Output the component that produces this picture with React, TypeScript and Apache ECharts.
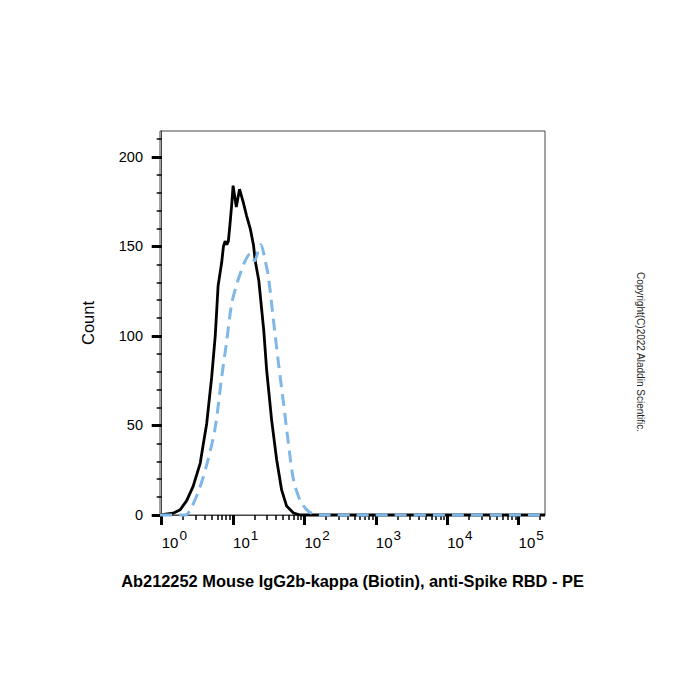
import React, { useEffect, useRef } from "react";
import * as echarts from "echarts";

// x values are log10(PE intensity); y values are event counts
const xMin = -0.024;
const xMax = 5.37;
const yMax = 214.5;

const decades = [0, 1, 2, 3, 4, 5];
const minorMultipliers = [2, 3, 4, 5, 6, 7, 8, 9];
const yMajorTicks = [0, 50, 100, 150, 200];
const yMinorTicks = [10, 20, 30, 40, 60, 70, 80, 90, 110, 120, 130, 140, 160, 170, 180, 190, 210];

const blackLogX = [-0.024, 0.16, 0.26, 0.35, 0.44, 0.54, 0.58, 0.63, 0.70, 0.75, 0.79, 0.84, 0.865, 0.888, 0.912, 0.934, 0.958, 0.982, 1.0, 1.045, 1.09, 1.14, 1.19, 1.24, 1.285, 1.31, 1.36, 1.43, 1.47, 1.54, 1.61, 1.68, 1.75, 1.85, 1.94, 5.37];
const blackCount = [0, 1, 3, 8, 16, 29, 39, 51, 77, 100, 128, 141, 150, 153, 151, 153, 163, 174, 184, 172, 182, 175, 167, 160, 151, 142, 131, 103, 81, 53, 31, 14, 5, 1, 0, 0];

const blueLogX = [-0.024, 0.33, 0.42, 0.54, 0.65, 0.75, 0.84, 0.91, 0.98, 1.06, 1.12, 1.17, 1.24, 1.30, 1.355, 1.39, 1.45, 1.495, 1.565, 1.635, 1.705, 1.775, 1.845, 1.94, 2.03, 2.10, 2.22, 5.37];
const blueCount = [0, 0, 4.5, 16, 31, 49, 77, 97, 118, 130, 137, 142, 146, 142, 148, 151, 142, 133, 109, 85, 63, 40, 20, 8, 3, 1, 0, 0];

const xTitle = "Ab212252 Mouse IgG2b-kappa (Biotin), anti-Spike RBD - PE";
const yTitle = "Count";
const copyright = "Copyright(C)2022 Aladdin Scientific.";

const FONT = "'Liberation Sans', Arial, Helvetica, sans-serif";

export default function App() {
  const ref = useRef<HTMLDivElement>(null);

  useEffect(() => {
    if (!ref.current) return;
    const chart = echarts.init(ref.current, null, { renderer: "svg" });

    const minorX: number[] = [];
    decades.forEach((d) => {
      minorMultipliers.forEach((m) => {
        const v = d + Math.log10(m);
        if (v <= xMax) minorX.push(v);
      });
    });

    const blackData = blackLogX.map((x, i) => [x, blackCount[i]]);
    const blueData = blueLogX.map((x, i) => [x, blueCount[i]]);

    chart.setOption({
      animation: false,
      backgroundColor: "#ffffff",
      textStyle: { fontFamily: FONT },
      grid: {
        left: 160,
        top: 131,
        width: 385,
        height: 384,
        show: true,
        borderColor: "#444",
        borderWidth: 1,
        backgroundColor: "transparent",
      },
      xAxis: [
        {
          type: "value",
          min: xMin,
          max: xMax,
          position: "bottom",
          splitLine: { show: false },
          axisLine: { show: true, lineStyle: { color: "#444", width: 1 } },
          axisTick: {
            show: true,
            customValues: decades,
            length: 10,
            lineStyle: { color: "#000", width: 3 },
          },
          axisLabel: {
            customValues: decades,
            align: "left",
            margin: 13,
            formatter: (v: number) => `{b|10}{s|${Math.round(v)}}`,
            rich: {
              b: { fontSize: 15, color: "#000", fontFamily: FONT },
              s: { fontSize: 13.5, color: "#000", fontFamily: FONT, padding: [0, 0, 14, 1] },
            },
          },
          name: xTitle,
          nameLocation: "middle",
          nameGap: 58,
          nameTextStyle: { fontSize: 16.4, fontWeight: "bold", color: "#000", fontFamily: FONT },
        },
        {
          type: "value",
          min: xMin,
          max: xMax,
          position: "bottom",
          gridIndex: 0,
          splitLine: { show: false },
          axisLine: { show: false },
          axisLabel: { show: false },
          axisTick: {
            show: true,
            customValues: minorX,
            length: 5,
            lineStyle: { color: "#000", width: 1.5 },
          },
        },
      ],
      yAxis: [
        {
          type: "value",
          min: 0,
          max: yMax,
          position: "left",
          splitLine: { show: false },
          axisLine: { show: true, lineStyle: { color: "#444", width: 1 } },
          axisTick: {
            show: true,
            customValues: yMajorTicks,
            length: 10,
            lineStyle: { color: "#000", width: 3 },
          },
          axisLabel: {
            customValues: yMajorTicks,
            margin: 17,
            fontSize: 14.5,
            color: "#000",
            fontFamily: FONT,
          },
          name: yTitle,
          nameLocation: "middle",
          nameGap: 64,
          nameTextStyle: { fontSize: 16.5, color: "#000", fontFamily: FONT },
        },
        {
          type: "value",
          min: 0,
          max: yMax,
          position: "left",
          gridIndex: 0,
          splitLine: { show: false },
          axisLine: { show: false },
          axisLabel: { show: false },
          axisTick: {
            show: true,
            customValues: yMinorTicks,
            length: 5,
            lineStyle: { color: "#000", width: 1.5 },
          },
        },
      ],
      graphic: [
        {
          type: "text",
          x: 640,
          y: 352,
          rotation: -Math.PI / 2,
          style: {
            text: copyright,
            fontSize: 10,
            fill: "#222",
            align: "center",
            verticalAlign: "middle",
            fontFamily: FONT,
          },
        },
      ],
      series: [
        {
          type: "line",
          data: blackData,
          xAxisIndex: 0,
          yAxisIndex: 0,
          showSymbol: false,
          clip: false,
          lineStyle: { color: "#000", width: 2.8 },
          z: 2,
        },
        {
          type: "line",
          data: blueData,
          xAxisIndex: 0,
          yAxisIndex: 0,
          showSymbol: false,
          smooth: 0.3,
          clip: false,
          lineStyle: { color: "#7fb7e6", width: 3, type: [12, 7] },
          z: 3,
        },
      ],
    });

    return () => chart.dispose();
  }, []);

  return (
    <div
      ref={ref}
      style={{ position: "fixed", left: 0, top: 0, width: 700, height: 700, background: "#fff" }}
    />
  );
}
